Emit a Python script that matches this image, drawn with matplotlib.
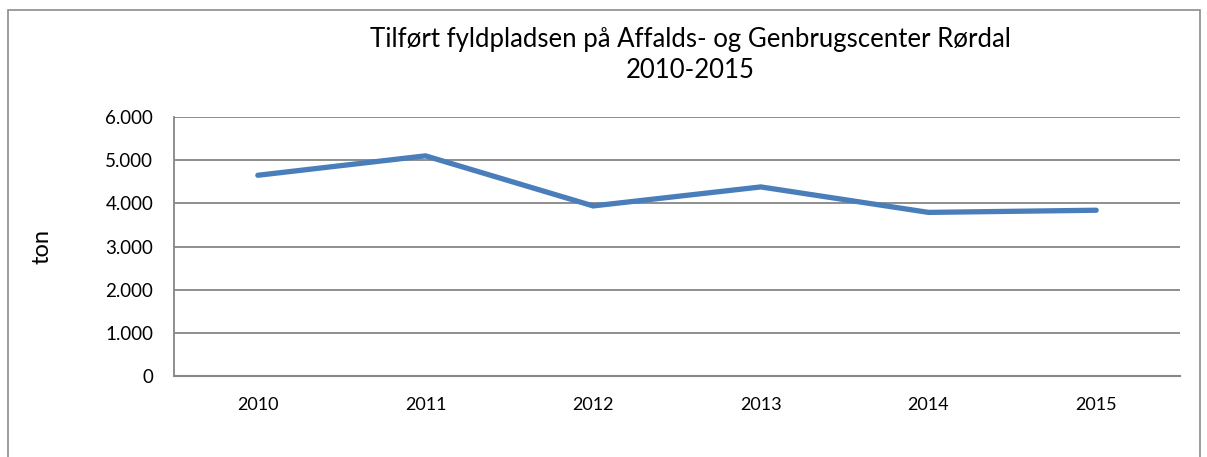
import matplotlib
matplotlib.use("Agg")
import matplotlib.pyplot as plt
from matplotlib.patches import Rectangle
from matplotlib.ticker import FuncFormatter

years = ["2010", "2011", "2012", "2013", "2014", "2015"]
tons = [4650, 5100, 3940, 4380, 3790, 3840]
yticks = [0, 1000, 2000, 3000, 4000, 5000, 6000]

plt.rcParams['font.family'] = ['Lato', 'DejaVu Sans']

W, H = 1207, 457
fig = plt.figure(figsize=(W/100, H/100), dpi=100)
fig.patches.append(Rectangle((8/W, -0.1), (1200-8)/W, 1.1 - 10/H + 0.0,
                             transform=fig.transFigure, fill=False,
                             edgecolor='#8c8c8c', linewidth=1.2))

ax = fig.add_axes([174/W, 1-376/H, (1180-174)/W, (376-117)/H])
x = list(range(len(years)))
ax.plot(x, tons, color='#4A7EBB', linewidth=3.8, solid_capstyle='round',
        solid_joinstyle='miter', zorder=3)
ax.set_xlim(-0.5, len(years)-0.5)
ax.set_ylim(0, 6000)
ax.set_yticks(yticks)
ax.yaxis.set_major_formatter(FuncFormatter(lambda v, p: f"{int(v):,}".replace(",", ".")))
ax.set_xticks(x)
ax.set_xticklabels(years)
ax.grid(axis='y', color='#868686', linewidth=1.3)
ax.set_axisbelow(True)
for s in ['top', 'right']:
    ax.spines[s].set_visible(False)
ax.spines['left'].set_color('#868686')
ax.spines['bottom'].set_color('#868686')
ax.spines['left'].set_linewidth(1.3)
ax.spines['bottom'].set_linewidth(1.5)
ax.tick_params(axis='both', length=0, colors='black')
ax.tick_params(axis='y', pad=15, labelsize=13.5)
ax.tick_params(axis='x', pad=15, labelsize=13)

fig.text(690/W, 1-40/H, "Tilført fyldpladsen på Affalds- og Genbrugscenter Rørdal",
         ha='center', va='center', fontsize=18.5)
fig.text(690/W, 1-70/H, "2010-2015", ha='center', va='center', fontsize=18.5)
fig.text(42/W, 1-247/H, "ton", rotation=90, ha='center', va='center', fontsize=17)

fig.savefig("out.png", dpi=100)
